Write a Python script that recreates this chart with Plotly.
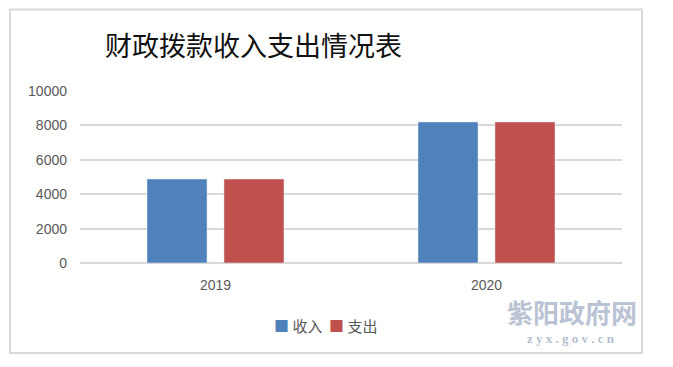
import plotly.graph_objects as go

categories = ["2019", "2020"]
income = [4880, 8200]
expense = [4880, 8200]
series_names = ["收入", "支出"]
series_colors = ["#4f81bd", "#c0504d"]
title_text = "财政拨款收入支出情况表"
y_ticks = [0, 2000, 4000, 6000, 8000, 10000]
y_tick_labels = ["0", "2000", "4000", "6000", "8000", "10000"]

# page body adds an 8px offset; compensate so the picture lines up
O = 8
W, H = 673 - O, 367 - O
PL, PR, PT, PB = 80, 622, 91, 263  # plot area in screen pixels
L, T = PL - O, PT - O
R, B = W - (PR - O), H - (PB - O)
pw, ph = PR - PL, PB - PT

def px(x):
    return (x - PL) / pw

def py(y):
    return (PB - y) / ph

fig = go.Figure()
fig.add_trace(go.Bar(x=categories, y=income, name=series_names[0], marker_color=series_colors[0]))
fig.add_trace(go.Bar(x=categories, y=expense, name=series_names[1], marker_color=series_colors[1]))

fig.update_layout(
    width=W, height=H,
    margin=dict(l=L, r=R, t=T, b=B, autoexpand=False),
    paper_bgcolor="white", plot_bgcolor="white",
    barmode="group", bargap=0.432, bargroupgap=0.22,
    showlegend=False,
    font=dict(family="Liberation Sans", color="#595959"),
)
fig.update_yaxes(range=[0, 10000], tickvals=y_ticks, ticktext=y_tick_labels, automargin=False,
                 showgrid=True, gridcolor="#d9d9d9", gridwidth=1.5,
                 zeroline=True, zerolinecolor="#d9d9d9", zerolinewidth=1.5, showline=False,
                 ticks="", ticklabelstandoff=12, tickfont=dict(size=14, color="#595959"))
fig.update_xaxes(showgrid=False, showline=False, ticks="", ticklabelstandoff=12, automargin=False,
                 tickfont=dict(size=14, color="#595959"))

# chart frame
fig.add_shape(type="rect", xref="paper", yref="paper",
              x0=px(10), x1=px(642), y0=py(353), y1=py(9.5),
              line=dict(color="#d9d9d9", width=2), fillcolor="rgba(0,0,0,0)", layer="below")

fig.add_annotation(text=title_text, xref="paper", yref="paper", x=px(253), y=py(45),
                   xanchor="center", yanchor="middle", showarrow=False,
                   font=dict(family="Noto Sans CJK SC", size=27, color="#111111"))

# legend (drawn as text with coloured squares)
legend_text = (f'<span style="color:{series_colors[0]}">■</span> {series_names[0]}  '
               f'<span style="color:{series_colors[1]}">■</span> {series_names[1]}')
fig.add_annotation(text=legend_text, xref="paper", yref="paper", x=px(326), y=py(325),
                   xanchor="center", yanchor="middle", showarrow=False,
                   font=dict(family="Noto Sans CJK SC", size=15, color="#595959"))

# watermark
fig.add_annotation(text="<b>紫阳政府网</b>", xref="paper", yref="paper", x=px(572), y=py(311),
                   xanchor="center", yanchor="middle", showarrow=False,
                   font=dict(family="Noto Sans CJK SC", size=26, color="#b9c3d3"))
fig.add_annotation(text="<b>z y x . g o v . c n</b>", xref="paper", yref="paper", x=px(571), y=py(338),
                   xanchor="center", yanchor="middle", showarrow=False,
                   font=dict(family="Liberation Serif", size=13, color="#b4bfd0"))

fig.write_html("out.html")
